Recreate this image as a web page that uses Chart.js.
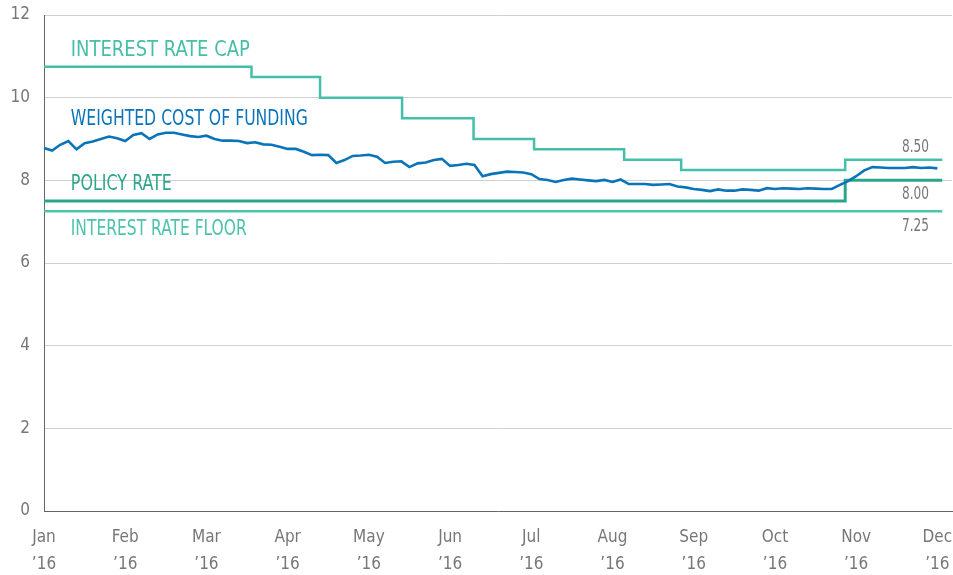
<!DOCTYPE html>
<html>
<head>
<meta charset="utf-8">
<script src="https://cdn.jsdelivr.net/npm/chart.js@4.4.1/dist/chart.umd.min.js"></script>
<style>
  html, body { margin: 0; padding: 0; background: #fff; }
  #wrap { width: 953px; height: 575px; }
</style>
</head>
<body>
<div id="wrap"><canvas id="myChart"></canvas></div>
<script>
// month labels for the x axis (x values are months since 1 Jan 2016)
const monthLabels = ['Jan', 'Feb', 'Mar', 'Apr', 'May', 'Jun', 'Jul', 'Aug', 'Sep', 'Oct', 'Nov', 'Dec'];
const yearLabel = '\u201916';

// weighted cost of funding, one reading every 0.1 month
const wcofStep = 0.1;
const wcof = [
  8.78, 8.72, 8.86, 8.95, 8.75, 8.90, 8.94, 9.00, 9.06, 9.02,
  8.95, 9.10, 9.14, 9.00, 9.11, 9.15, 9.15, 9.11, 9.07, 9.05,
  9.08, 9.00, 8.96, 8.96, 8.95, 8.90, 8.92, 8.87, 8.86, 8.81,
  8.76, 8.76, 8.69, 8.61, 8.62, 8.61, 8.42, 8.49, 8.59, 8.60,
  8.62, 8.57, 8.42, 8.45, 8.46, 8.32, 8.41, 8.43, 8.49, 8.52,
  8.35, 8.37, 8.40, 8.37, 8.10, 8.15, 8.18, 8.21, 8.20, 8.19,
  8.15, 8.03, 8.01, 7.96, 8.01, 8.04, 8.02, 8.00, 7.98, 8.01,
  7.96, 8.02, 7.91, 7.91, 7.91, 7.89, 7.90, 7.91, 7.85, 7.83,
  7.79, 7.77, 7.74, 7.78, 7.75, 7.75, 7.78, 7.77, 7.75, 7.81,
  7.79, 7.81, 7.80, 7.79, 7.81, 7.80, 7.79, 7.79, 7.89, 7.98,
  8.10, 8.24, 8.32, 8.31, 8.30, 8.30, 8.30, 8.32, 8.30, 8.31,
  8.29
];

// corridor: change dates (months) and levels
const capDates = [0, 2.555, 3.399, 4.409, 5.289, 6.034, 7.143, 7.845, 9.865, 11.06];
const capRates = [10.75, 10.5, 10.0, 9.5, 9.0, 8.75, 8.5, 8.25, 8.5, 8.5];
const policyDates = [0, 9.865, 11.06];
const policyRates = [7.5, 8.0, 8.0];
const floorDates = [0, 11.06];
const floorRates = [7.25, 7.25];

const capColor = '#45bfa8';
const policyColor = '#2ba68c';
const floorColor = '#4cc3ad';
const wcofColor = '#0a74ba';
const fontFamily = "'Liberation Sans Narrow', 'DejaVu Sans Condensed', 'Noto Sans', sans-serif";

const toPoints = (xs, ys) => xs.map((x, i) => ({ x: x, y: ys[i] }));

// text labels drawn next to the lines (w = squeezed width in px)
const lineLabels = [
  { text: 'INTEREST RATE CAP', x: 0.33, y: 11.15, w: 179, color: capColor },
  { text: 'WEIGHTED COST OF FUNDING', x: 0.33, y: 9.47, w: 237, color: wcofColor },
  { text: 'POLICY RATE', x: 0.33, y: 7.89, w: 101, color: policyColor },
  { text: 'INTEREST RATE FLOOR', x: 0.33, y: 6.81, w: 176, color: floorColor }
];
const endLabels = [
  { text: '8.50', y: 8.5, dy: -12 },
  { text: '8.00', y: 8.0, dy: 14 },
  { text: '7.25', y: 7.25, dy: 15 }
];

const labelPlugin = {
  id: 'lineLabels',
  afterDatasetsDraw(chart) {
    const { ctx, scales: { x, y } } = chart;
    ctx.save();
    ctx.textBaseline = 'middle';
    ctx.textAlign = 'left';
    ctx.font = '21px ' + fontFamily;
    lineLabels.forEach(l => {
      ctx.fillStyle = l.color;
      ctx.fillText(l.text, x.getPixelForValue(l.x), y.getPixelForValue(l.y), l.w);
    });
    ctx.font = '18px ' + fontFamily;
    ctx.fillStyle = '#777';
    ctx.textAlign = 'center';
    endLabels.forEach(l => {
      ctx.fillText(l.text, x.getPixelForValue(10.73), y.getPixelForValue(l.y) + l.dy, 27);
    });
    ctx.restore();
  }
};

const ctx = document.getElementById('myChart');
new Chart(ctx, {
  type: 'line',
  data: {
    datasets: [
      {
        label: 'Interest rate cap',
        data: toPoints(capDates, capRates),
        borderColor: capColor,
        borderWidth: 2.5,
        stepped: 'before',
        pointRadius: 0
      },
      {
        label: 'Weighted cost of funding',
        data: wcof.map((v, i) => ({ x: i * wcofStep, y: v })),
        borderColor: wcofColor,
        borderWidth: 2.6,
        pointRadius: 0,
        tension: 0
      },
      {
        label: 'Policy rate',
        data: toPoints(policyDates, policyRates),
        borderColor: policyColor,
        borderWidth: 3,
        stepped: 'before',
        pointRadius: 0
      },
      {
        label: 'Interest rate floor',
        data: toPoints(floorDates, floorRates),
        borderColor: floorColor,
        borderWidth: 2.5,
        pointRadius: 0
      }
    ]
  },
  options: {
    responsive: true,
    maintainAspectRatio: false,
    animation: false,
    layout: { padding: { top: 15, right: 1, left: 0, bottom: 0 } },
    plugins: {
      legend: { display: false },
      tooltip: { enabled: false }
    },
    scales: {
      x: {
        type: 'linear',
        min: 0,
        max: 11.18,
        grid: { display: false },
        border: { display: true, color: '#666', width: 1 },
        ticks: {
          stepSize: 1,
          includeBounds: false,
          autoSkip: false,
          maxRotation: 0,
          padding: 5,
          color: '#777',
          font: { family: fontFamily, size: 17, lineHeight: 1.6 },
          callback: (v) => Number.isInteger(v) && monthLabels[v] ? [monthLabels[v], yearLabel] : null
        },
        afterFit: (s) => { s.height = 64; s.paddingLeft = 0; s.paddingRight = 0; }
      },
      y: {
        min: 0,
        max: 12,
        grid: { color: '#cfcfcf', lineWidth: 1, drawTicks: false },
        border: { display: true, color: '#666', width: 1 },
        ticks: {
          stepSize: 2,
          padding: 14,
          color: '#777',
          font: { family: fontFamily, size: 17 }
        },
        afterFit: (s) => { s.width = 44; s.paddingTop = 0; s.paddingBottom = 0; }
      }
    }
  },
  plugins: [labelPlugin]
});
</script>
</body>
</html>
